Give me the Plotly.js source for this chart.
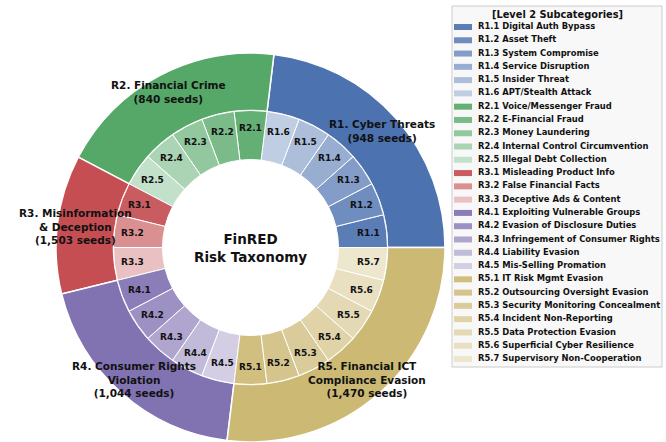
<!DOCTYPE html>
<html><head><meta charset="utf-8">
<script src="https://cdn.plot.ly/plotly-3.0.1.min.js"></script>
<style>html,body{margin:0;padding:0;background:#fff;}#chart{width:666px;height:442px;}</style>
</head><body><div id="chart"></div>
<script>
// ---- data ----
const catCodes = ['R1', 'R2', 'R3', 'R4', 'R5'];
const catNames = ['Cyber Threats', 'Financial Crime', 'Misinformation\n& Deception', 'Consumer Rights\nViolation', 'Financial ICT\nCompliance Evasion'];
const catSeeds = [948, 840, 1503, 1044, 1470];
const catColors = ['#4C72B0', '#55A868', '#C44E52', '#8172B2', '#CCB974'];
const subR1 = ['Digital Auth Bypass', 'Asset Theft', 'System Compromise', 'Service Disruption', 'Insider Threat', 'APT/Stealth Attack'];
const subR2 = ['Voice/Messenger Fraud', 'E-Financial Fraud', 'Money Laundering', 'Internal Control Circumvention', 'Illegal Debt Collection'];
const subR3 = ['Misleading Product Info', 'False Financial Facts', 'Deceptive Ads & Content'];
const subR4 = ['Exploiting Vulnerable Groups', 'Evasion of Disclosure Duties', 'Infringement of Consumer Rights', 'Liability Evasion', 'Mis-Selling Promation'];
const subR5 = ['IT Risk Mgmt Evasion', 'Outsourcing Oversight Evasion', 'Security Monitoring Concealment', 'Incident Non-Reporting', 'Data Protection Evasion', 'Superficial Cyber Resilience', 'Supervisory Non-Cooperation'];
const subGroups = [subR1, subR2, subR3, subR4, subR5];
const legendTitle = '[Level 2 Subcategories]';
const centerTitle = 'FinRED\nRisk Taxonomy';

// ---- derived ----
function shade(hex, a) {
  const n = parseInt(hex.slice(1), 16);
  const r = (n >> 16) & 255, g = (n >> 8) & 255, b = n & 255;
  const m = c => Math.round(c * a + 255 * (1 - a));
  return 'rgb(' + m(r) + ',' + m(g) + ',' + m(b) + ')';
}
const subCodes = [], subLabels = [], subColors = [], subValues = [];
const catValues = subGroups.map(g => g.length);
subGroups.forEach((g, i) => {
  g.forEach((name, j) => {
    const code = catCodes[i] + '.' + (j + 1);
    subCodes.push(code);
    subLabels.push(code + ' ' + name);
    const a = 0.92 - 0.57 * j / (g.length - 1);
    subColors.push(shade(catColors[i], a));
    subValues.push(1);
  });
});

const W = 666, H = 442;
const cx = 250.5, cyB = 194.5; // center (px from left, px from bottom)
const R = 194.5, Rmid = 137, Rhole = 88;
const FONT = 'DejaVu Sans';

const sum = a => a.reduce((p, q) => p + q, 0);
function midAngles(vals) {
  const tot = sum(vals);
  let cum = 0;
  return vals.map(v => { const m = (cum + v / 2) / tot * 2 * Math.PI; cum += v; return m; });
}
// start at 3 o'clock, counterclockwise (plotly places first slice clockwise of rotation)
const rotFor = vals => 90 - vals[0] / sum(vals) * 360;

const outer = {
  type: 'pie', values: catValues, labels: catCodes, sort: false,
  direction: 'counterclockwise', rotation: rotFor(catValues), hole: Rmid / R,
  domain: {x: [(cx - R) / W, (cx + R) / W], y: [(cyB - R) / H, (cyB + R) / H]},
  marker: {colors: catColors, line: {color: '#ffffff', width: 1.5}},
  textinfo: 'none', hoverinfo: 'label', showlegend: false
};
const inner = {
  type: 'pie', values: subValues, labels: subCodes, sort: false,
  direction: 'counterclockwise', rotation: rotFor(subValues), hole: Rhole / Rmid,
  domain: {x: [(cx - Rmid) / W, (cx + Rmid) / W], y: [(cyB - Rmid) / H, (cyB + Rmid) / H]},
  marker: {colors: subColors, line: {color: '#ffffff', width: 1}},
  textinfo: 'none', hoverinfo: 'label', showlegend: false
};

// legend (drawn as scatter on hidden axes, y = row index)
const rowTop = 27, rowStep = 13.28;
const rowOf = px => (px - rowTop) / rowStep;
const idx = subCodes.map((_, i) => i);
const swatches = {
  type: 'scatter', mode: 'markers', x: idx.map(() => 463), y: idx,
  marker: {symbol: 'line-ew', size: 18 / 1.4, line: {width: 6, color: subColors}},
  hoverinfo: 'skip', showlegend: false, cliponaxis: false
};
const legText = {
  type: 'scatter', mode: 'text', x: idx.map(() => 478), y: idx, text: subLabels,
  textposition: 'middle right',
  textfont: {family: FONT, size: 8.4, color: '#111111', weight: 'bold'},
  hoverinfo: 'skip', showlegend: false, cliponaxis: false
};

const annotations = [];
midAngles(catValues).forEach((t, i) => {
  const r = 176;
  annotations.push({
    xref: 'paper', yref: 'paper', x: (cx + r * Math.cos(t)) / W, y: (cyB + r * Math.sin(t)) / H,
    xanchor: 'center', yanchor: 'middle', showarrow: false, align: 'center',
    text: (catCodes[i] + '. ' + catNames[i] + '\n(' + catSeeds[i].toLocaleString('en-US') + ' seeds)').replace(/\n/g, '<br>'),
    font: {family: FONT, size: 10.5, color: '#111111', weight: 'bold'}
  });
});
midAngles(subValues).forEach((t, i) => {
  const r = 119;
  annotations.push({
    xref: 'paper', yref: 'paper', x: (cx + r * Math.cos(t)) / W, y: (cyB + r * Math.sin(t)) / H,
    xanchor: 'center', yanchor: 'middle', showarrow: false,
    text: subCodes[i],
    font: {family: FONT, size: 9, color: '#111111', weight: 'bold'}
  });
});
annotations.push({
  xref: 'paper', yref: 'paper', x: cx / W, y: cyB / H, xanchor: 'center', yanchor: 'middle',
  showarrow: false, align: 'center', text: centerTitle.replace(/\n/g, '<br>'),
  font: {family: FONT, size: 13.5, color: '#111111', weight: 'bold'}
});
annotations.push({
  xref: 'x', yref: 'y', x: 557, y: rowOf(14.7), xanchor: 'center', yanchor: 'middle',
  showarrow: false, text: legendTitle,
  font: {family: FONT, size: 9.8, color: '#111111', weight: 'bold'}
});

const layout = {
  width: W, height: H, margin: {l: 0, r: 0, t: 0, b: 0},
  paper_bgcolor: '#ffffff', plot_bgcolor: 'rgba(0,0,0,0)', showlegend: false,
  xaxis: {range: [0, W], visible: false, fixedrange: true},
  yaxis: {range: [rowOf(H), rowOf(0)], visible: false, fixedrange: true},
  shapes: [{
    type: 'rect', xref: 'x', yref: 'y', x0: 452, x1: 662, y0: rowOf(6), y1: rowOf(367),
    fillcolor: '#f8f8f8', line: {color: '#cccccc', width: 1}, layer: 'below'
  }],
  annotations: annotations
};

Plotly.newPlot('chart', [outer, inner, swatches, legText], layout, {displayModeBar: false, staticPlot: true});
</script>
</body></html>
